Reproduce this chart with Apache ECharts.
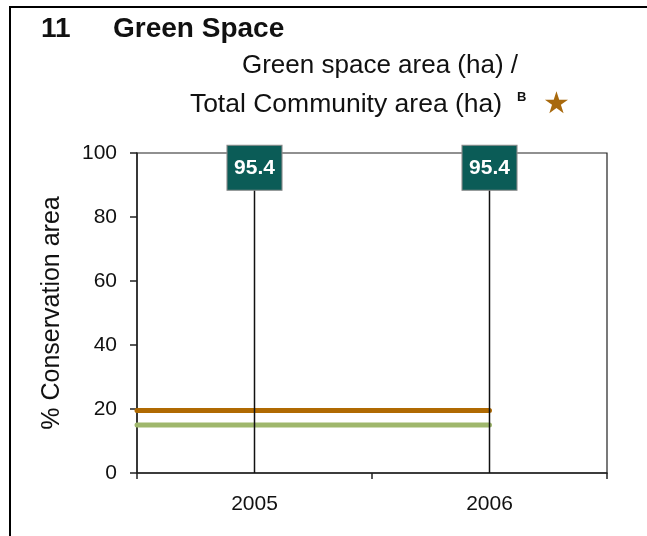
<!DOCTYPE html>
<html>
<head>
<meta charset="utf-8">
<script src="https://cdn.jsdelivr.net/npm/echarts@6/dist/echarts.min.js"></script>
<style>
html, body { margin: 0; padding: 0; background: #fff; }
#main { width: 647px; height: 536px; }
</style>
</head>
<body>
<div id="main"></div>
<script>
// 数据
var years = ['2005', '2006'];
var ratioValues = [95.4, 95.4];      // 方框里的数值
var orangeValues = [19.5, 19.5];     // 橙色线
var greenValues = [15.0, 15.0];      // 绿色线
var yTicks = [0, 20, 40, 60, 80, 100];

var FONT = '"Liberation Sans", Arial, sans-serif';

/**
 * 线条从坐标轴起点画到最后一个年份
 * @param {Array} vals 每年的数值
 */
function lineData(vals) {
	var out = [[0, vals[0]]];
	for (var i = 0; i < vals.length; i++) {
		out.push([i + 0.5, vals[i]]);
	}
	return out;
}

var option = {
	animation: false,
	textStyle: { fontFamily: FONT },
	title: [{
		text: '11',
		left: 41, top: 15, padding: 0,
		textStyle: { fontSize: 28, fontWeight: 'bold', color: '#111', fontFamily: FONT }
	}, {
		text: 'Green Space',
		left: 113, top: 15, padding: 0,
		textStyle: { fontSize: 28, fontWeight: 'bold', color: '#111', fontFamily: FONT }
	}, {
		text: 'Green space area (ha) /',
		left: 380, top: 53, padding: 0, textAlign: 'center',
		textStyle: { fontSize: 26, fontWeight: 'normal', color: '#111', fontFamily: FONT }
	}, {
		text: 'Total Community area (ha)',
		left: 346, top: 91, padding: 0, textAlign: 'center',
		textStyle: { fontSize: 26.5, fontWeight: 'normal', color: '#111', fontFamily: FONT }
	}, {
		text: 'B',
		left: 517, top: 91, padding: 0,
		textStyle: { fontSize: 13, fontWeight: 'bold', color: '#111', fontFamily: FONT }
	}, {
		text: '★',
		left: 543, top: 90, padding: 0,
		textStyle: { fontSize: 30, fontWeight: 'normal', color: '#a8690d', fontFamily: '"DejaVu Sans", sans-serif' }
	}],
	graphic: [{
		type: 'polyline',
		shape: { points: [[10, 536], [10, 7], [647, 7]] },
		style: { stroke: '#000', lineWidth: 2, fill: null }
	}],
	grid: {
		left: 137, right: 40, top: 153, bottom: 63,
		show: true, borderColor: '#222', borderWidth: 1.2
	},
	xAxis: [{
		type: 'category',
		data: years,
		boundaryGap: true,
		axisLine: { lineStyle: { color: '#222', width: 1.5 } },
		axisTick: { show: true, length: 6, lineStyle: { color: '#222', width: 1.5 } },
		axisLabel: { fontSize: 21, color: '#111', margin: 21, fontFamily: FONT }
	}, {
		type: 'value',
		min: 0, max: years.length,
		show: false
	}],
	yAxis: {
		type: 'value',
		min: yTicks[0], max: yTicks[yTicks.length - 1], interval: 20,
		name: '% Conservation area',
		nameLocation: 'middle',
		nameGap: 72,
		nameTextStyle: { fontSize: 25, color: '#111', fontFamily: FONT },
		axisLine: { show: true, lineStyle: { color: '#222', width: 1.5 } },
		axisTick: { show: true, length: 7, lineStyle: { color: '#222', width: 1.5 } },
		splitLine: { show: false },
		axisLabel: { fontSize: 21, color: '#111', margin: 20, fontFamily: FONT }
	},
	series: [{
		name: 'orange',
		type: 'line',
		xAxisIndex: 1,
		data: lineData(orangeValues),
		symbol: 'none',
		lineStyle: { color: '#b06a02', width: 5, cap: 'round' },
		z: 2
	}, {
		name: 'green',
		type: 'line',
		xAxisIndex: 1,
		data: lineData(greenValues),
		symbol: 'none',
		lineStyle: { color: '#9fb76c', width: 5, cap: 'round' },
		z: 2
	}, {
		name: 'stem',
		type: 'bar',
		data: ratioValues,
		barWidth: 1.5,
		itemStyle: { color: '#111' },
		z: 3
	}, {
		name: 'box',
		type: 'scatter',
		data: ratioValues,
		symbol: 'rect',
		symbolSize: [55, 45],
		itemStyle: { color: '#0b5c57', borderColor: '#8a8a8a', borderWidth: 1, opacity: 1 },
		label: {
			show: true, position: 'inside',
			color: '#fff', fontSize: 21, fontWeight: 'bold', fontFamily: FONT,
			formatter: function (p) { return p.value.toFixed(1); }
		},
		z: 4
	}]
};

var myChart = echarts.init(document.getElementById('main'));
myChart.setOption(option);
</script>
</body>
</html>
